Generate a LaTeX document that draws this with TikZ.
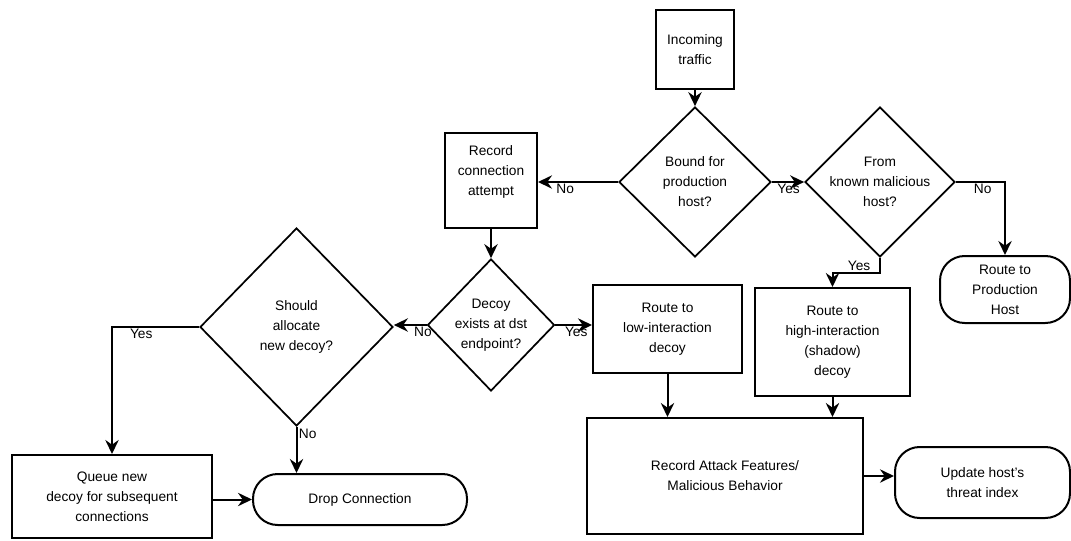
\documentclass[tikz,border=0pt]{standalone}
\usepackage{fontspec}
\setmainfont{Liberation Sans}
\usetikzlibrary{arrows.meta, shapes.geometric, calc}

\tikzset{
    chartfont/.style={font=\fontsize{10.3}{15}\selectfont},
    procbox/.style={draw, line width=1.5pt, rectangle, align=center, chartfont, inner sep=0pt},
    decision/.style={draw, line width=1.3pt, diamond, align=center, chartfont, inner sep=-1.5pt},
    terminal/.style={draw, line width=1.5pt, rectangle, rounded corners=18.5pt, align=center, chartfont, inner sep=0pt},
    flow/.style={line width=1.5pt, -{Stealth[length=10.5pt, width=10pt, inset=3.5pt]}},
    flowlbl/.style={chartfont, inner sep=1pt}
}

\begin{document}
\begin{tikzpicture}[x=0.75pt, y=-0.75pt]
        \useasboundingbox (0,0) rectangle (1071,540);

        \node[procbox, minimum width=58.5pt, minimum height=59.25pt] (incoming) at (695,49.5) {Incoming\\traffic};
        \node[decision, minimum width=114pt, minimum height=112.5pt] (bound) at (695,182) {Bound for\\production\\host?};
        \node[decision, minimum width=112.5pt, minimum height=112.5pt] (malicious) at (880,182) {From\\known malicious\\host?};
        \node[terminal, minimum width=97.5pt, minimum height=50.25pt] (production) at (1005,289.5) {Route to\\Production\\Host};
        \node[procbox, minimum width=69pt, minimum height=71.25pt] (recconn) at (491,180.5) {Record\\connection\\attempt\\[0pt]\mbox{}};
        \node[decision, minimum width=95.25pt, minimum height=99pt] (decoy) at (491,325) {Decoy\\exists at dst\\endpoint?};
        \node[decision, minimum width=144.75pt, minimum height=148.5pt] (allocate) at (296.5,327) {Should\\allocate\\new decoy?};
        \node[procbox, minimum width=150pt, minimum height=62.25pt] (queue) at (112,496.5) {Queue new\\decoy for subsequent\\connections};
        \node[terminal, minimum width=160.5pt, minimum height=38.25pt] (drop) at (360,499.5) {Drop Connection};
        \node[procbox, minimum width=111.75pt, minimum height=66pt] (lowint) at (667.5,329) {Route to\\low-interaction\\decoy};
        \node[procbox, minimum width=116.25pt, minimum height=81pt] (highint) at (832.5,342) {Route to\\high-interaction\\(shadow)\\decoy};
        \node[procbox, minimum width=207pt, minimum height=87pt] (features) at (725,476) {Record Attack Features/\\Malicious Behavior};
        \node[terminal, minimum width=131.25pt, minimum height=53.25pt] (threat) at (982.5,482.5) {Update host's\\threat index};

        \draw[flow] (incoming.south) -- (bound.north);
        \draw[flow] (bound.east) -- node[flowlbl, pos=0.1, anchor=north west] {Yes} (malicious.west);
        \draw[flow] (bound.west) -- node[flowlbl, pos=0.8, anchor=north west] {No} (bound.west -| recconn.east);
        \draw[flow] (malicious.east) -| node[flowlbl, pos=0.16, anchor=north west] {No} (production.north);
        \draw[flow] (malicious.south) -- ++(0,15) -| node[flowlbl, pos=0.22, anchor=south] {Yes} (highint.north);
        \draw[flow] (recconn.south) -- (decoy.north);
        \draw[flow] (decoy.east) -- node[flowlbl, pos=0.2, anchor=north west] {Yes} (decoy.east -| lowint.west);
        \draw[flow] (decoy.west) -- node[flowlbl, pos=0.45, anchor=north west] {No} (decoy.west -| allocate.east);
        \draw[flow] (allocate.west) -| node[flowlbl, pos=0.41, anchor=north west] {Yes} (queue.north);
        \draw[flow] (allocate.south) -- node[flowlbl, pos=0, anchor=north west] {No} (allocate.south |- drop.north);
        \draw[flow] (drop.west -| queue.east) -- (drop.west);
        \draw[flow] (lowint.south) -- (lowint.south |- features.north);
        \draw[flow] (highint.south) -- (highint.south |- features.north);
        \draw[flow] (features.east) -- (features.east -| threat.west);

\end{tikzpicture}
\end{document}
